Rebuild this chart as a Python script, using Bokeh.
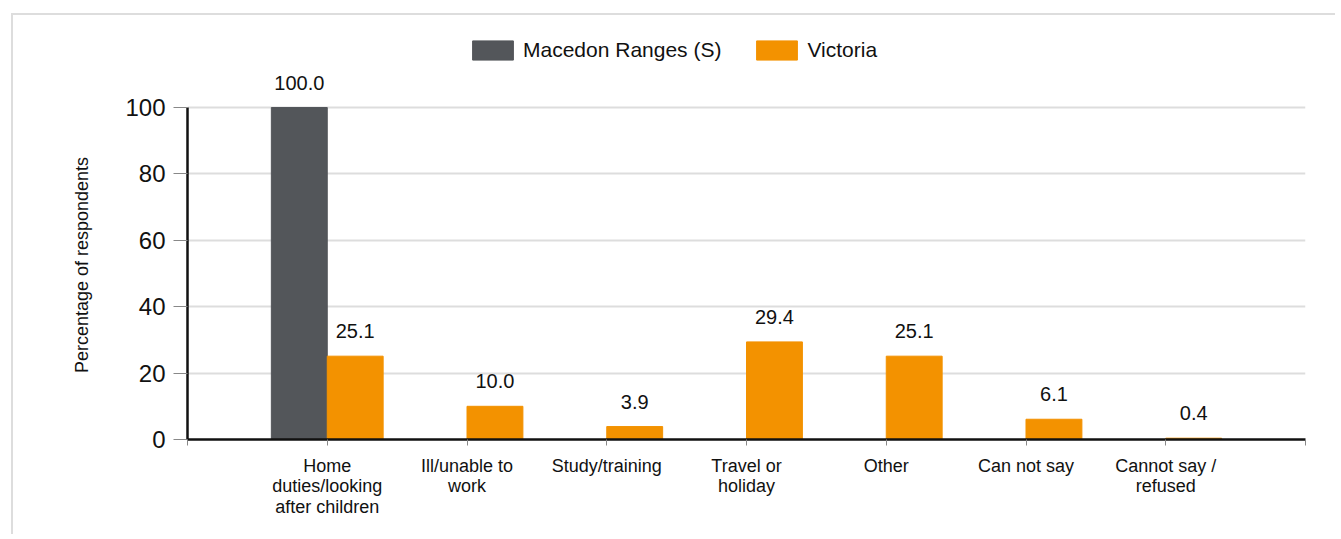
from bokeh.plotting import figure
from bokeh.models import Range1d, FixedTicker, ColumnDataSource, Legend, LegendItem
from bokeh.core.properties import value
from bokeh.embed import file_html
from bokeh.resources import INLINE

categories = ["Home\nduties/looking\nafter children", "Ill/unable to\nwork", "Study/training",
              "Travel or\nholiday", "Other", "Can not say", "Cannot say /\nrefused"]
macedon = [100.0, None, None, None, None, None, None]
victoria = [25.1, 10.0, 3.9, 29.4, 25.1, 6.1, 0.4]
series_names = ["Macedon Ranges (S)", "Victoria"]
y_ticks = [0, 20, 40, 60, 80, 100]
y_title = "Percentage of respondents"

GREY = "#53565a"
ORANGE = "#f39200"
FONT = "Liberation Sans"

p = figure(frame_width=1118, frame_height=409,
           min_border_left=174, min_border_right=30, min_border_top=15, min_border_bottom=95,
           x_range=Range1d(-1, 7), y_range=Range1d(0, 123.2),
           output_backend="svg", toolbar_location=None, tools="")
p.outline_line_color = None
p.background_fill_color = "white"
p.border_fill_color = "white"
p.styles = {"margin-left": "11px", "margin-top": "13px",
            "border-left": "2px solid #dddddd", "border-top": "2px solid #dddddd"}

idx = list(range(len(categories)))
m_x = [i - 0.2 for i, v in zip(idx, macedon) if v is not None]
m_y = [v for v in macedon if v is not None]
v_x = [i + 0.2 for i in idx]
v_y = victoria

src_m = ColumnDataSource(dict(x=m_x, top=m_y, lbl=[f"{v:.1f}" for v in m_y]))
src_v = ColumnDataSource(dict(x=v_x, top=v_y, lbl=[f"{v:.1f}" for v in v_y]))

r_m = p.vbar(x="x", top="top", width=0.4, source=src_m, fill_color=GREY, line_color=GREY)
r_v = p.vbar(x="x", top="top", width=0.4, source=src_v, fill_color=ORANGE, line_color=ORANGE)

for src in (src_m, src_v):
    p.text(x="x", y="top", text="lbl", source=src, text_align="center", text_baseline="bottom",
           y_offset=-18, text_font=value(FONT), text_font_size="20px", text_color="#111111")

# Axes
xa = p.xaxis[0]
xa.ticker = FixedTicker(ticks=list(range(-1, 8)))
overrides = {-1: "", 7: ""}
for i, c in enumerate(categories):
    overrides[i] = c
xa.major_label_overrides = overrides
xa.axis_line_color = "#111111"
xa.axis_line_width = 2.5
xa.major_tick_out = 6
xa.major_tick_in = 0
xa.major_tick_line_color = "#888888"
xa.minor_tick_line_color = None
xa.major_label_text_font = FONT
xa.major_label_text_font_size = "18px"
xa.major_label_text_color = "#111111"
xa.major_label_text_line_height = 1.04
xa.major_label_standoff = 10

ya = p.yaxis[0]
ya.ticker = FixedTicker(ticks=y_ticks)
ya.bounds = (0, 100)
ya.axis_line_color = "#111111"
ya.axis_line_width = 2.5
ya.major_tick_out = 14
ya.major_tick_in = 0
ya.major_tick_line_color = "#888888"
ya.minor_tick_line_color = None
ya.major_label_text_font = FONT
ya.major_label_text_font_size = "24px"
ya.major_label_text_color = "#111111"
ya.major_label_standoff = 8
# trailing no-break spaces shift the centred title down to the middle of the 0-100 axis
ya.axis_label = y_title + "\u00a0" * 12
ya.axis_label_text_font = FONT
ya.axis_label_text_font_size = "18px"
ya.axis_label_text_font_style = "normal"
ya.axis_label_text_color = "#111111"
ya.axis_label_standoff = 30

p.xgrid.grid_line_color = None
p.ygrid.grid_line_color = "#dddddd"
p.ygrid.grid_line_width = 2
p.ygrid.ticker = FixedTicker(ticks=y_ticks)

legend = Legend(items=[LegendItem(label=series_names[0], renderers=[r_m]),
                       LegendItem(label=series_names[1], renderers=[r_v])],
                orientation="horizontal", location=(280, 377),
                glyph_width=51, glyph_height=24, label_standoff=5, spacing=30,
                padding=0, margin=0, border_line_color=None, background_fill_alpha=0,
                label_text_font=FONT, label_text_font_size="21px", label_text_color="#111111")
p.add_layout(legend, "center")

open("out.html", "w").write(file_html(p, INLINE))
